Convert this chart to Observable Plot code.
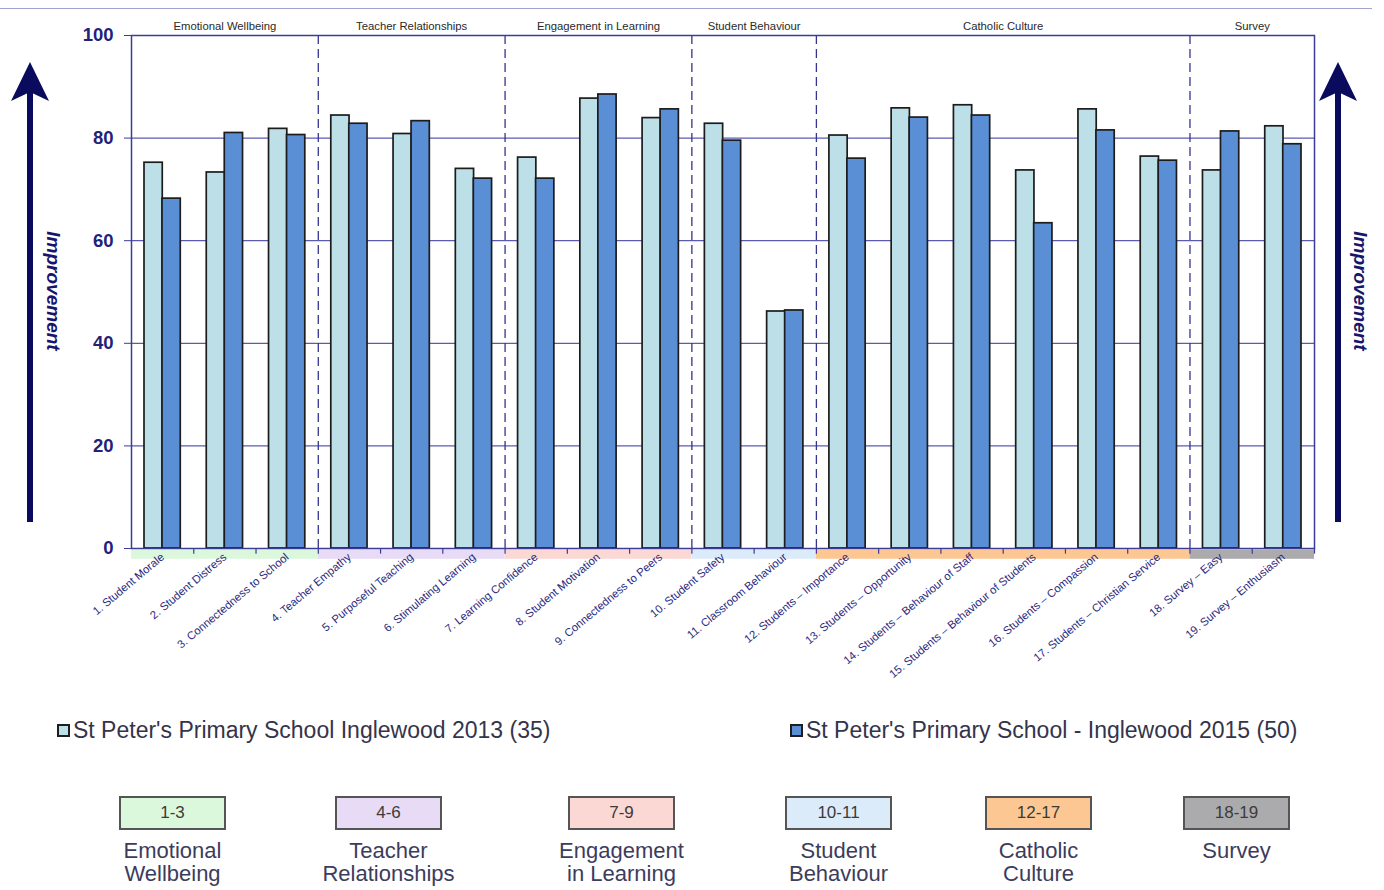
<!DOCTYPE html>
<html>
<head>
<meta charset="utf-8">
<script src="https://cdn.jsdelivr.net/npm/d3@7"></script>
<script src="https://cdn.jsdelivr.net/npm/@observablehq/plot@0.6"></script>
<style>
  body { margin: 0; background: #fff; font-family: Arial, "Liberation Sans", sans-serif; }
  #page { position: relative; width: 1384px; height: 890px; overflow: hidden; background: #fff; }
  #topline { position: absolute; left: 0; top: 8px; width: 1372px; height: 0; border-top: 1.5px solid #a3a3cf; }
  #chart { position: absolute; left: 0; top: 0; }
  #arrows { position: absolute; left: 0; top: 0; }
  .legend-item { position: absolute; top: 717px; font-size: 23px; color: #34344a; white-space: nowrap; display: flex; align-items: center; }
  .legend-item .sw { width: 9px; height: 9px; border: 2px solid #1e1e1e; margin-right: 3px; display: inline-block; }
  .grp { position: absolute; top: 796px; width: 107px; text-align: center; }
  .grp .box { width: 103px; height: 30px; border: 2px solid #555; line-height: 30px; font-size: 17px; color: #3b3b3b; }
  .grp .name { position: absolute; left: -40px; width: 187px; top: 43px; font-size: 22px; line-height: 23px; color: #3c3c5c; }
</style>
</head>
<body>
<div id="page">
  <div id="topline"></div>
  <div id="chart"></div>
  <svg id="arrows" width="1384" height="690"></svg>
  <div id="legend"></div>
  <div id="groups"></div>
</div>
<script>
// Survey items, one per bar pair
const items = [
  "1. Student Morale", "2. Student Distress", "3. Connectedness to School",
  "4. Teacher Empathy", "5. Purposeful Teaching", "6. Stimulating Learning",
  "7. Learning Confidence", "8. Student Motivation", "9. Connectedness to Peers",
  "10. Student Safety", "11. Classroom Behaviour",
  "12. Students \u2013 Importance", "13. Students \u2013 Opportunity", "14. Students \u2013 Behaviour of Staff",
  "15. Students \u2013 Behaviour of Students", "16. Students \u2013 Compassion", "17. Students \u2013 Christian Service",
  "18. Survey \u2013 Easy", "19. Survey \u2013 Enthusiasm"
];

// Scores per item for each survey year
const scores2013 = [75.2, 73.3, 81.8, 84.4, 80.8, 74.0, 76.2, 87.7, 83.9, 82.8, 46.2, 80.5, 85.8, 86.4, 73.7, 85.6, 76.4, 73.7, 82.3];
const scores2015 = [68.2, 81.0, 80.6, 82.8, 83.3, 72.1, 72.1, 88.5, 85.6, 79.5, 46.4, 76.0, 84.0, 84.4, 63.4, 81.5, 75.6, 81.3, 78.8];

const seriesNames = ["St Peter's Primary School Inglewood 2013 (35)", "St Peter's Primary School - Inglewood 2015 (50)"];
const seriesFills = ["#bcdfe8", "#5a8fd6"];

// Item groups
const groupNames = ["Emotional Wellbeing", "Teacher Relationships", "Engagement in Learning", "Student Behaviour", "Catholic Culture", "Survey"];
const groupLines = [["Emotional", "Wellbeing"], ["Teacher", "Relationships"], ["Engagement", "in Learning"], ["Student", "Behaviour"], ["Catholic", "Culture"], ["Survey"]];
const groupRanges = ["1-3", "4-6", "7-9", "10-11", "12-17", "18-19"];
const groupSizes = [3, 3, 3, 2, 6, 2];
const groupFills = ["#dcf8dc", "#e7dbf6", "#fbd8d4", "#dcebfa", "#fcc792", "#ababad"];

const yTicks = [0, 20, 40, 60, 80, 100];
const gridTicks = [20, 40, 60, 80];

// Derived tables
const rows = items.map((label, i) => ({ i, label, a: scores2013[i], b: scores2015[i] }));
let acc = 0;
const groups = groupNames.map((name, k) => {
  const g = { name, start: acc, end: acc + groupSizes[k], fill: groupFills[k] };
  acc += groupSizes[k];
  return g;
});

const ink = "#3c3c96";
const H = 690;

const chart = Plot.plot({
  width: 1384,
  height: H,
  marginLeft: 131,
  marginRight: 70,
  marginTop: 35,
  marginBottom: H - 548,
  x: { type: "linear", domain: [0, items.length], axis: null },
  y: { domain: [0, 100], axis: null },
  color: { type: "identity" },
  style: { fontFamily: "Arial, 'Liberation Sans', sans-serif", background: "transparent", overflow: "visible" },
  marks: [
    Plot.ruleY(gridTicks, { stroke: "#5a5ab2", strokeWidth: 1.2 }),
    Plot.ruleX(groups.slice(1), { x: "start", y1: 0, y2: 100, stroke: "#35358f", strokeWidth: 1.3, strokeDasharray: "9,5" }),
    // group colour strip under the axis
    Plot.rectY(groups, { x1: "start", x2: "end", y1: -0.3, y2: -2.1, fill: "fill" }),
    Plot.ruleX(rows, { x: d => d.i + 1, y1: 0, y2: -1.1, stroke: ink, strokeWidth: 1.2 }),
    Plot.rectY(rows, { x1: "i", x2: d => d.i + 1, y1: 0, y2: "a", insetLeft: 13, insetRight: 31, fill: seriesFills[0], stroke: "#1c1c1c", strokeWidth: 1.7 }),
    Plot.rectY(rows, { x1: "i", x2: d => d.i + 1, y1: 0, y2: "b", insetLeft: 31, insetRight: 13, fill: seriesFills[1], stroke: "#1c1c1c", strokeWidth: 1.7 }),
    Plot.frame({ stroke: ink, strokeWidth: 1.5 }),
    Plot.axisY(yTicks, { tickSize: 7, tickPadding: 11, fontSize: 18.5, fontWeight: "bold", fill: "#22227a", stroke: ink, label: null }),
    Plot.axisX(rows.map(d => d.i + 0.5), {
      tickFormat: v => items[Math.floor(v)],
      tickRotate: -40, tickSize: 0, tickPadding: 7,
      fontSize: 11.3, fill: "#2b2b80", label: null
    }),
    Plot.text(groups, { x: d => (d.start + d.end) / 2, y: 100, dy: -9, text: "name", fontSize: 11.3, fill: "#2a2a2a" })
  ]
});
document.getElementById("chart").appendChild(chart);

// Improvement arrows on both sides
const svg = d3.select("#arrows");
function arrow(cx, label, tx) {
  const c = "#0b0b5e";
  svg.append("rect").attr("x", cx - 3).attr("y", 90).attr("width", 6).attr("height", 432).attr("fill", c);
  svg.append("path")
    .attr("d", `M${cx},62 L${cx + 19},101 L${cx},92 L${cx - 19},101 Z`)
    .attr("fill", c);
  svg.append("text")
    .attr("transform", `translate(${tx},291) rotate(90)`)
    .attr("text-anchor", "middle")
    .attr("dominant-baseline", "middle")
    .attr("font-size", 19).attr("font-weight", "bold").attr("font-style", "italic")
    .attr("fill", "#16166c")
    .text(label);
}
arrow(30, "Improvement", 52);
arrow(1338, "Improvement", 1359);

// Series legend
const legend = document.getElementById("legend");
[57, 790].forEach((left, k) => {
  const el = document.createElement("div");
  el.className = "legend-item";
  el.style.left = left + "px";
  el.innerHTML = `<span class="sw" style="background:${seriesFills[k]}"></span>${seriesNames[k]}`;
  legend.appendChild(el);
});

// Group key boxes
const groupLefts = [119, 335, 568, 785, 985, 1183];
const gdiv = document.getElementById("groups");
groupNames.forEach((n, k) => {
  const el = document.createElement("div");
  el.className = "grp";
  el.style.left = groupLefts[k] + "px";
  el.innerHTML = `<div class="box" style="background:${groupFills[k]}">${groupRanges[k]}</div>` +
    `<div class="name">${groupLines[k].join("<br>")}</div>`;
  gdiv.appendChild(el);
});
</script>
</body>
</html>
